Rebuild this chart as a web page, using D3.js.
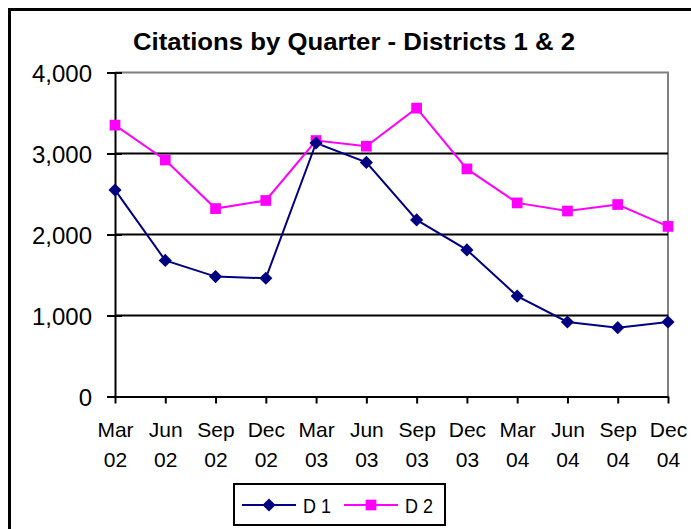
<!DOCTYPE html>
<html lang="en">
<head>
<meta charset="UTF-8">
<title>Citations by Quarter</title>
<script src="https://d3js.org/d3.v7.min.js"></script>
<style>
    body { margin: 0; background: #fff; }
    svg { display: block; font-family: "Liberation Sans", Arial, sans-serif; }
    .title { font-size: 24px; font-weight: bold; }
    .ylab { font-size: 24px; }
    .xlab { font-size: 21px; }
    .leg { font-size: 21px; }
</style>
</head>
<body>
<svg id="chart" width="691" height="529"></svg>
<script>
    let quarters = ["Mar 02", "Jun 02", "Sep 02", "Dec 02", "Mar 03", "Jun 03",
                    "Sep 03", "Dec 03", "Mar 04", "Jun 04", "Sep 04", "Dec 04"]
    let d1 = [2550, 1680, 1480, 1460, 3130, 2890, 2180, 1810, 1240, 920, 850, 920]
    let d2 = [3350, 2920, 2320, 2420, 3160, 3090, 3560, 2810, 2390, 2290, 2370, 2100]
    let yTicks = [0, 1000, 2000, 3000, 4000]
    let seriesNames = ["D 1", "D 2"]

    let svg = d3.select("#chart")
    let navy = "#000080", pink = "#ff00ff"
    let plotLeft = 115, plotRight = 668, plotTop = 72.5, plotBottom = 396.5

    // outer chart border (runs off the picture at right/bottom)
    svg.append("rect").attr("x", 9.5).attr("y", 9.5).attr("width", 700).attr("height", 540)
        .attr("fill", "none").attr("stroke", "#000").attr("stroke-width", 3)

    svg.append("text").attr("class", "title")
        .attr("x", 354).attr("y", 49.5).attr("text-anchor", "middle")
        .attr("textLength", 442).attr("lengthAdjust", "spacingAndGlyphs")
        .text("Citations by Quarter - Districts 1 & 2")

    let x = d3.scalePoint().domain(quarters).range([plotLeft, plotRight])
    let y = d3.scaleLinear().domain([0, 4000]).range([plotBottom, plotTop])

    // plot frame: grey top and right
    svg.append("path")
        .attr("d", `M${plotLeft},${y(4000)}H${plotRight}V${plotBottom}`)
        .attr("fill", "none").attr("stroke", "#808080").attr("stroke-width", 2)

    // gridlines
    svg.append("g").selectAll("line")
        .data(yTicks.filter(d => d > 0 && d < 4000))
        .join("line")
        .attr("x1", plotLeft).attr("x2", plotRight)
        .attr("y1", d => y(d)).attr("y2", d => y(d))
        .attr("stroke", "#000").attr("stroke-width", 2)

    // y axis
    let yAxis = svg.append("g").attr("transform", `translate(${plotLeft},0)`)
        .call(d3.axisLeft(y).tickValues(yTicks).tickFormat(d3.format(",")).tickSize(8).tickSizeOuter(0))
    yAxis.attr("font-size", null).attr("font-family", null)
    yAxis.select(".domain").attr("stroke", "#000").attr("stroke-width", 2)
    yAxis.selectAll(".tick line").attr("x1", 7).attr("x2", -8).attr("stroke-width", 2)
    yAxis.selectAll(".tick text").attr("class", "ylab").attr("fill", "#000")
        .attr("x", -23).attr("dy", "0.36em")

    // x axis
    let xAxis = svg.append("g").attr("transform", `translate(0,${plotBottom})`)
        .call(d3.axisBottom(x).tickSize(7).tickSizeOuter(0))
    xAxis.attr("font-size", null).attr("font-family", null)
    xAxis.select(".domain").attr("stroke", "#000").attr("stroke-width", 2)
    xAxis.selectAll(".tick line").attr("stroke-width", 2)
    xAxis.selectAll(".tick text").remove()
    xAxis.selectAll(".tick").append("text").attr("class", "xlab")
        .attr("text-anchor", "middle").attr("fill", "#000")
        .selectAll("tspan").data(d => d.split(" ")).join("tspan")
        .attr("x", 0).attr("y", (d, i) => 40.5 + i * 29.5)
        .text(d => d)

    let line = d3.line().x((d, i) => x(quarters[i])).y(d => y(d))
    let diamond = d3.symbol().type(d3.symbolDiamond2).size(110)
    let square = d3.symbol().type(d3.symbolSquare).size(115)

    svg.append("path").attr("d", line(d1)).attr("fill", "none")
        .attr("stroke", navy).attr("stroke-width", 2)
    svg.append("path").attr("d", line(d2)).attr("fill", "none")
        .attr("stroke", pink).attr("stroke-width", 2)

    svg.append("g").selectAll("path").data(d2).join("path")
        .attr("d", square).attr("fill", pink)
        .attr("transform", (d, i) => `translate(${x(quarters[i])},${y(d)})`)
    svg.append("g").selectAll("path").data(d1).join("path")
        .attr("d", diamond).attr("fill", navy)
        .attr("transform", (d, i) => `translate(${x(quarters[i])},${y(d)})`)

    // legend
    let leg = svg.append("g")
    leg.append("rect").attr("x", 234).attr("y", 484).attr("width", 211).attr("height", 41)
        .attr("fill", "#fff").attr("stroke", "#000").attr("stroke-width", 2)
    let legItems = [
        {name: seriesNames[0], color: navy, sym: diamond, x0: 242},
        {name: seriesNames[1], color: pink, sym: square, x0: 344}
    ]
    legItems.forEach(it => {
        leg.append("line").attr("x1", it.x0).attr("x2", it.x0 + 54)
            .attr("y1", 505).attr("y2", 505).attr("stroke", it.color).attr("stroke-width", 2)
        leg.append("path").attr("d", it.sym).attr("fill", it.color)
            .attr("transform", `translate(${it.x0 + 27},505)`)
        leg.append("text").attr("class", "leg").attr("x", it.x0 + 61).attr("y", 512.5)
            .attr("textLength", 28).attr("lengthAdjust", "spacingAndGlyphs")
            .text(it.name)
    })
</script>
</body>
</html>
